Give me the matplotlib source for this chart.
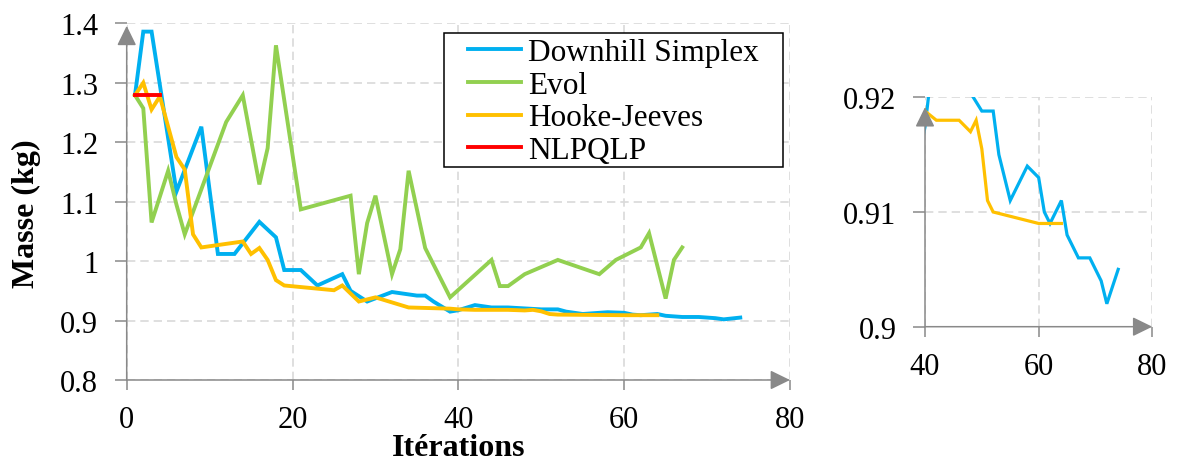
import matplotlib
matplotlib.use('Agg')
import matplotlib.pyplot as plt
from matplotlib.ticker import FormatStrFormatter
from matplotlib.patches import Rectangle

plt.rcParams['font.family'] = ['Liberation Serif', 'DejaVu Serif']
plt.rcParams['font.size'] = 22

# --- data ---
names = ['Downhill Simplex', 'Evol', 'Hooke-Jeeves', 'NLPQLP']
colors = ['#00B0F0', '#92D050', '#FFC000', '#FF0000']

ds_x = [1, 2, 3, 6, 9, 11, 13, 16, 18, 19, 21, 23, 26, 27, 29, 32, 35, 36, 37, 39,
        40, 42, 44, 46, 50, 52, 53, 55, 58, 60, 61, 62, 64, 65, 67, 69, 71, 72, 74]
ds_y = [1.279, 1.386, 1.386, 1.117, 1.226, 1.012, 1.012, 1.066, 1.040, 0.985, 0.985,
        0.959, 0.978, 0.950, 0.932, 0.948, 0.942, 0.942, 0.932, 0.915,
        0.9174, 0.926, 0.922, 0.922, 0.9188, 0.9188, 0.915, 0.911, 0.914, 0.913,
        0.910, 0.909, 0.911, 0.908, 0.906, 0.906, 0.904, 0.902, 0.905]

ev_x = [1, 2, 3, 5, 6, 7, 12, 14, 16, 17, 18, 21, 27, 28, 29, 30, 32, 33, 34, 36,
        39, 44, 45, 46, 48, 52, 57, 59, 62, 63, 65, 66, 67]
ev_y = [1.279, 1.257, 1.065, 1.152, 1.095, 1.045, 1.234, 1.279, 1.129, 1.190, 1.363,
        1.087, 1.110, 0.978, 1.064, 1.110, 0.978, 1.020, 1.152, 1.022,
        0.939, 1.002, 0.958, 0.958, 0.978, 1.002, 0.978, 1.002, 1.023, 1.047,
        0.937, 1.002, 1.023]

hj_x = [1, 2, 3, 4, 5, 6, 7, 8, 9, 14, 15, 16, 17, 18, 19, 25, 26, 28, 30, 34,
        39, 40, 42, 46, 48, 49, 50, 51, 52, 60, 64]
hj_y = [1.279, 1.300, 1.255, 1.277, 1.226, 1.175, 1.154, 1.045, 1.023, 1.033, 1.012,
        1.022, 1.002, 0.968, 0.959, 0.951, 0.959, 0.932, 0.939, 0.922,
        0.920, 0.9188, 0.918, 0.918, 0.917, 0.918, 0.9155, 0.911, 0.910, 0.909, 0.909]

nl_x = [1, 2, 3, 4]
nl_y = [1.279, 1.279, 1.279, 1.279]

series = [(ds_x, ds_y), (ev_x, ev_y), (hj_x, hj_y), (nl_x, nl_y)]

W, H = 1177, 464
grey = '#898989'
gridc = '#d9d9d9'

fig = plt.figure(figsize=(W / 100, H / 100), dpi=100)


def style(ax, xlim, ylim, xticks, yticks, ytip):
    ax.set_xlim(xlim)
    ax.set_ylim(ylim)
    ax.set_xticks(xticks)
    ax.set_yticks(yticks)
    ax.yaxis.set_major_formatter(FormatStrFormatter('%g'))
    for s in ax.spines.values():
        s.set_visible(False)
    ax.grid(True, color=gridc, lw=1.2, ls=(0, (5, 3)))
    ax.set_axisbelow(True)
    ax.tick_params(axis='y', direction='out', length=8.5, width=1.1, color=grey, pad=12)
    ax.tick_params(axis='x', direction='out', length=7, width=1.1, color=grey, pad=11)
    arr = dict(arrowstyle='-|>,head_length=0.45,head_width=0.22', color=grey, lw=1.1,
               shrinkA=0, shrinkB=0, mutation_scale=27)
    ax.annotate('', xy=(1, 0), xytext=(0, 0), xycoords='axes fraction', arrowprops=arr)
    ax.annotate('', xy=(0, ytip), xytext=(0, 0), xycoords='axes fraction', arrowprops=arr)


# main chart
ax = fig.add_axes([126.7 / W, 1 - 381 / H, (790 - 126.7) / W, (381 - 24.3) / H])
lines = []
for (x, y), c in zip(series, colors):
    l, = ax.plot(x, y, color=c, lw=2.8, solid_joinstyle='miter')
    lines.append(l)
style(ax, (0, 80), (0.8, 1.4), [0, 20, 40, 60, 80],
      [0.8, 0.9, 1.0, 1.1, 1.2, 1.3, 1.4], 0.993)

ax.add_patch(Rectangle((444 / W, 1 - 167.7 / H), (782.7 - 444) / W, (167.7 - 34.3) / H,
                       transform=fig.transFigure, facecolor='white', edgecolor='black',
                       lw=1.1, zorder=4.5, clip_on=False))
ax.legend(lines, names, loc='upper left', bbox_to_anchor=(468 / W, 1 - 39 / H),
          bbox_transform=fig.transFigure, frameon=False, borderpad=0, borderaxespad=0,
          handlelength=1.7, handletextpad=0.23, labelspacing=0.12, fontsize=22.5)

fig.text(26 / W, 1 - 214 / H, 'Masse (kg)', rotation=90, ha='center', va='center',
         fontsize=23, fontweight='bold')
fig.text(458.5 / W, 1 - 449 / H, 'Itérations', ha='center', va='center',
         fontsize=23, fontweight='bold')

# zoomed inset
ax2 = fig.add_axes([925 / W, 1 - 327.7 / H, (1152.3 - 925) / W, (327.7 - 98.3) / H])
for (x, y), c in zip(series, colors):
    ax2.plot(x, y, color=c, lw=2.3, solid_joinstyle='miter')
style(ax2, (40, 80), (0.9, 0.92), [40, 60, 80], [0.9, 0.91, 0.92], 0.957)

fig.savefig('out.png', dpi=100)
